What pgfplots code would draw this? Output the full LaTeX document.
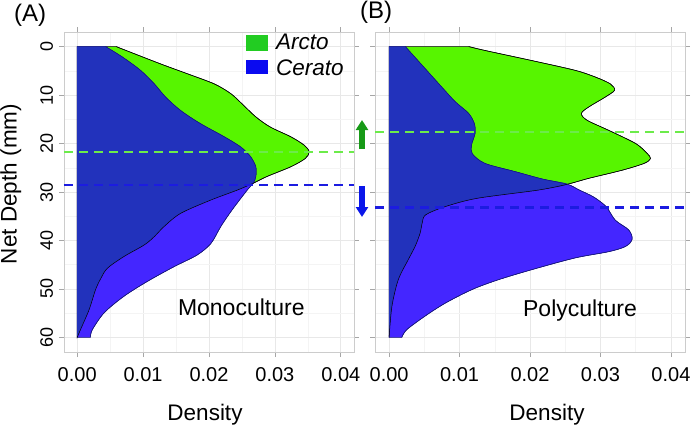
\documentclass[border=0pt]{standalone}
\usepackage{fontspec}
\setmainfont{Liberation Sans}
\usepackage{pgfplots}
\usepackage{pgfplotstable}
\pgfplotsset{compat=1.18}
\usetikzlibrary{arrows.meta}

\definecolor{arcto}{HTML}{57F500}
\definecolor{cerato}{HTML}{4426FF}
\definecolor{both}{HTML}{2232BC}
\definecolor{ceratoedge}{HTML}{14147A}
\definecolor{gline}{HTML}{6CEB4A}
\definecolor{bline}{HTML}{1C1CE0}
\definecolor{legG}{HTML}{22CC22}
\definecolor{legB}{HTML}{0A0AF0}
\definecolor{arrG}{HTML}{179A17}
\definecolor{arrB}{HTML}{0A16EA}

% density vs net depth, monoculture (A)
\pgfplotstableread{
dens depth
0.0059 0
0.0074 0.8
0.0127 3.6
0.0167 5.6
0.0208 7.7
0.0233 9.7
0.0250 11.8
0.0271 14.5
0.0293 16.6
0.0324 18.6
0.0344 20.3
0.0352 21.7
0.0346 23.1
0.0324 24.8
0.0288 26.8
0.0267 28.2
0.0243 29.6
0.0202 31.7
0.0157 34.4
0.0132 37.1
0.0117 39.2
0.0102 40.9
0.0071 43.3
0.0046 45.7
0.0036 47.8
0.0028 50.1
0.0018 54.3
0.0005 58.4
0.0000 60
}\arctoA
\pgfplotstableread{
dens depth
0.0043 0
0.0069 2.2
0.0096 4.9
0.0117 7.7
0.0134 10.4
0.0157 13.2
0.0187 15.9
0.0223 18.6
0.0248 20.7
0.0263 22.7
0.0271 24.8
0.0271 26.8
0.0267 28.2
0.0258 29.6
0.0235 33.7
0.0218 37.1
0.0203 40.6
0.0182 43.0
0.0147 45.4
0.0107 48.4
0.0071 51.5
0.0041 54.9
0.0023 58.4
0.0020 60
}\ceratoA
% overlap of the two (A)
\pgfplotstableread{
dens depth
0.0043 0
0.0069 2.2
0.0096 4.9
0.0117 7.7
0.0134 10.4
0.0157 13.2
0.0187 15.9
0.0223 18.6
0.0248 20.7
0.0263 22.7
0.0271 24.8
0.0271 26.8
0.0267 28.2
0.0243 29.6
0.0202 31.7
0.0157 34.4
0.0132 37.1
0.0117 39.2
0.0102 40.9
0.0071 43.3
0.0046 45.7
0.0036 47.8
0.0028 50.1
0.0018 54.3
0.0005 58.4
0.0000 60
}\bothA

% polyculture (B)
\pgfplotstableread{
dens depth
0.0113 0
0.0136 0.8
0.0203 2.9
0.0264 4.9
0.0293 6.3
0.0314 7.7
0.0320 9.0
0.0307 10.4
0.0283 12.5
0.0273 13.8
0.0281 15.2
0.0312 17.3
0.0350 20.0
0.0366 22.0
0.0371 23.1
0.0362 24.1
0.0331 25.5
0.0283 27.2
0.0253 28.4
0.0212 29.6
0.0125 31.3
0.0080 33.0
0.0052 34.7
0.0047 36.4
0.0044 38.5
0.0037 41.2
0.0027 44.0
0.0013 48.1
0.0004 53.6
0.0000 60
}\arctoB
\pgfplotstableread{
dens depth
0.0023 0
0.0049 4.2
0.0075 8.4
0.0094 11.4
0.0113 13.8
0.0121 15.9
0.0122 17.9
0.0117 20.3
0.0118 22.1
0.0136 24.1
0.0179 25.8
0.0217 27.3
0.0253 28.4
0.0270 29.6
0.0290 31.0
0.0308 33.0
0.0321 35.8
0.0340 37.8
0.0345 39.7
0.0336 41.2
0.0312 42.3
0.0264 43.6
0.0203 46.0
0.0155 48.1
0.0118 50.1
0.0080 52.9
0.0051 55.6
0.0025 58.4
0.0018 60
}\ceratoB
\pgfplotstableread{
dens depth
0.0023 0
0.0049 4.2
0.0075 8.4
0.0094 11.4
0.0113 13.8
0.0121 15.9
0.0122 17.9
0.0117 20.3
0.0118 22.1
0.0136 24.1
0.0179 25.8
0.0217 27.3
0.0253 28.4
0.0212 29.6
0.0125 31.3
0.0080 33.0
0.0052 34.7
0.0047 36.4
0.0044 38.5
0.0037 41.2
0.0027 44.0
0.0013 48.1
0.0004 53.6
0.0000 60
}\bothB

\pgfplotsset{
  panel/.style={
    scale only axis, height=320bp,
    xmin=-0.002, xmax=0.042, ymin=-3, ymax=63, y dir=reverse,
    xtick={0,0.01,0.02,0.03,0.04},
    xticklabels={0.00,0.01,0.02,0.03,0.04},
    scaled x ticks=false,
    minor xtick={0.005,0.015,0.025,0.035},
    ytick={0,10,20,30,40,50,60},
    yticklabels={0,10,20,30,40,50,60},
    minor ytick={5,15,...,55},
    grid=both,
    major grid style={draw=gray!18, line width=0.7bp},
    minor grid style={draw=gray!9, line width=0.5bp},
    axis line style={draw=gray!40, line width=0.8bp},
    tick align=outside, major tick length=5bp, minor tick length=0pt,
    tick style={draw=gray!70, line width=0.8bp},
    xticklabel style={font=\fontsize{20bp}{24bp}\selectfont},
    xticklabel shift=7bp,
    yticklabel style={font=\fontsize{18bp}{22bp}\selectfont, rotate=90, anchor=base},
    yticklabel shift=6bp,
  },
  area/.style={smooth, line width=0.5bp},
}

\begin{document}
\begin{tikzpicture}

\begin{axis}[panel, width=290bp, at={(64bp,-352bp)}, anchor=south west]
  \addplot[area, fill=arcto, draw=black] table[x=dens, y=depth] {\arctoA} -- (0,60) -- (0,0) -- cycle;
  \addplot[area, fill=cerato, draw=ceratoedge] table[x=dens, y=depth] {\ceratoA} -- (0,60) -- (0,0) -- cycle;
  \addplot[area, fill=both, draw=none] table[x=dens, y=depth] {\bothA} -- (0,60) -- (0,0) -- cycle;
  \addplot[area, draw=black] table[x=dens, y=depth] {\arctoA};
  \addplot[area, draw=ceratoedge] table[x=dens, y=depth] {\ceratoA};
  \addplot[gline, line width=2.2bp, dash pattern=on 9bp off 6bp] coordinates {(-0.002,21.8) (0.042,21.8)};
  \addplot[bline, line width=2.2bp, dash pattern=on 9bp off 6bp] coordinates {(-0.002,28.5) (0.042,28.5)};
  \node[anchor=base, font=\fontsize{23bp}{27bp}\selectfont] at (axis cs:0.0249,55.5) {Monoculture};
\end{axis}

\begin{axis}[panel, width=310bp, at={(375bp,-352bp)}, anchor=south west, yticklabels={}]
  \addplot[area, fill=arcto, draw=black] table[x=dens, y=depth] {\arctoB} -- (0,60) -- (0,0) -- cycle;
  \addplot[area, fill=cerato, draw=ceratoedge] table[x=dens, y=depth] {\ceratoB} -- (0,60) -- (0,0) -- cycle;
  \addplot[area, fill=both, draw=none] table[x=dens, y=depth] {\bothB} -- (0,60) -- (0,0) -- cycle;
  \addplot[area, draw=black] table[x=dens, y=depth] {\arctoB};
  \addplot[area, draw=ceratoedge] table[x=dens, y=depth] {\ceratoB};
  \addplot[gline, line width=2.2bp, dash pattern=on 9bp off 6bp] coordinates {(-0.002,17.6) (0.042,17.6)};
  \addplot[bline, line width=2.2bp, dash pattern=on 9bp off 6bp] coordinates {(-0.002,33.2) (0.042,33.2)};
  \node[anchor=base, font=\fontsize{23bp}{27bp}\selectfont] at (axis cs:0.0271,55.6) {Polyculture};
\end{axis}

% axis titles and panel tags
\node[anchor=base, font=\fontsize{22.5bp}{27bp}\selectfont] at (205bp,-420bp) {Density};
\node[anchor=base, font=\fontsize{22.5bp}{27bp}\selectfont] at (547bp,-420bp) {Density};
\node[anchor=base, inner sep=0pt, rotate=90, font=\fontsize{22.5bp}{27bp}\selectfont] at (16.5bp,-184bp) {Net Depth (mm)};
\node[anchor=base west, inner sep=0pt, font=\fontsize{24bp}{28bp}\selectfont] at (14bp,-21bp) {(A)};
\node[anchor=base west, inner sep=0pt, font=\fontsize{24bp}{28bp}\selectfont] at (360bp,-18.5bp) {(B)};

% legend
\fill[legG] (246bp,-35bp) rectangle (268bp,-51bp);
\fill[legB] (246bp,-60bp) rectangle (268bp,-74bp);
\node[anchor=base west, inner sep=0pt, font=\fontsize{22.5bp}{27bp}\selectfont\itshape] at (276bp,-49bp) {Arcto};
\node[anchor=base west, inner sep=0pt, font=\fontsize{22.5bp}{27bp}\selectfont\itshape] at (276bp,-75bp) {Cerato};

% shift arrows
\draw[arrG, line width=5.5bp, -{Triangle[width=12bp,length=10bp]}] (362bp,-149bp) -- (362bp,-120bp);
\draw[arrB, line width=5.5bp, -{Triangle[width=12bp,length=10bp]}] (362bp,-186bp) -- (362bp,-217bp);

\pgfresetboundingbox
\useasboundingbox (0,0) rectangle (700bp,-428bp);
\end{tikzpicture}
\end{document}
